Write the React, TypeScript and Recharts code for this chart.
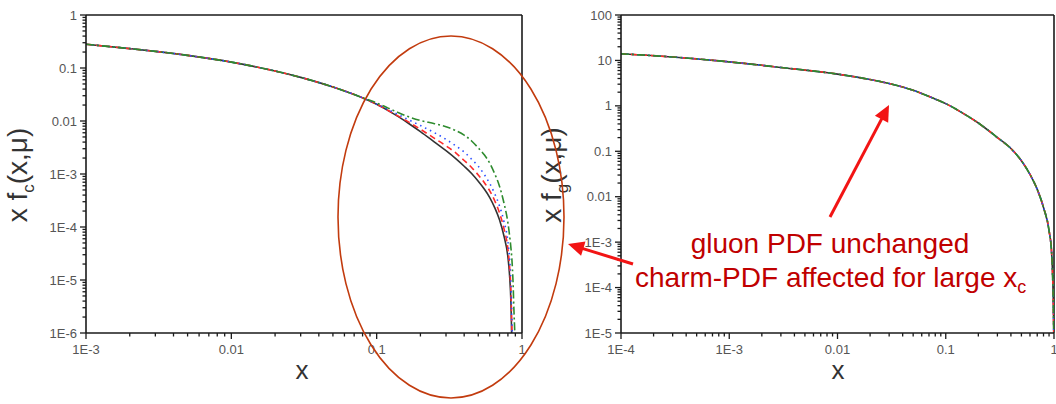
import React from "react";
import { LineChart, Line, XAxis, YAxis, ReferenceLine } from "recharts";

// charm PDF, left panel (x from 1E-3 to 1)
const charmX = [0.001, 0.002, 0.003, 0.005, 0.01, 0.02, 0.03, 0.05, 0.08, 0.1, 0.12, 0.14, 0.17, 0.2, 0.25, 0.3, 0.35, 0.4, 0.45, 0.5, 0.55, 0.6, 0.65, 0.7, 0.75, 0.8, 0.82, 0.84, 0.85, 0.86, 0.87, 0.88, 0.89, 0.9];
const charmRef = [0.28, 0.232, 0.206, 0.173, 0.129, 0.0877, 0.0665, 0.0438, 0.0273, 0.0207, 0.0157, 0.0122, 0.0086, 0.0063, 0.004, 0.00275, 0.00195, 0.0014, 0.00102, 0.00073, 0.00052, 0.00036, 0.00023, 0.000137, 0.000069, 0.000027, 0.000013, 0.0000034, 0.0000008, null, null, null, null, null];
const charmRed = [0.28, 0.232, 0.206, 0.173, 0.129, 0.0877, 0.0665, 0.0438, 0.0273, 0.0207, 0.0158, 0.0125, 0.0092, 0.007, 0.0047, 0.0034, 0.0025, 0.0018, 0.00133, 0.00096, 0.00069, 0.00048, 0.00031, 0.000185, 0.000095, 0.000038, 0.000019, 0.0000055, 0.0000015, 0.0000003, null, null, null, null];
const charmBlue = [0.28, 0.232, 0.206, 0.173, 0.129, 0.0877, 0.0665, 0.0438, 0.0273, 0.0208, 0.0164, 0.0133, 0.0102, 0.0082, 0.006, 0.0045, 0.0034, 0.0026, 0.0019, 0.0014, 0.00098, 0.00066, 0.00042, 0.00025, 0.00013, 0.000053, 0.000027, 0.000008, 0.0000023, 0.0000005, null, null, null, null];
const charmGreen = [0.28, 0.232, 0.206, 0.173, 0.129, 0.0877, 0.0665, 0.0438, 0.0275, 0.022, 0.0175, 0.0145, 0.0117, 0.0102, 0.0089, 0.0078, 0.0066, 0.0054, 0.0042, 0.0031, 0.0023, 0.0016, 0.001, 0.00059, 0.00029, 0.00012, 0.000072, 0.000039, 0.000027, 0.000016, 0.0000075, 0.0000027, 0.0000012, 0.0000005];

// gluon PDF, right panel (all variants coincide)
const gluonX = [0.0001, 0.0003, 0.001, 0.003, 0.01, 0.02, 0.03, 0.05, 0.075, 0.1, 0.15, 0.2, 0.3, 0.4, 0.5, 0.6, 0.7, 0.8, 0.9, 0.95, 0.97, 0.985, 0.995];
const gluonY = [14, 11.9, 9.3, 7.0, 5.0, 3.8, 3.1, 2.2, 1.5, 1.12, 0.65, 0.42, 0.2, 0.115, 0.062, 0.031, 0.0145, 0.0058, 0.0018, 0.0006, 0.0002, 0.00005, 0.00001];

const charmXTicks = [0.001, 0.01, 0.1, 1];
const charmXLabels = ["1E-3", "0.01", "0.1", "1"];
const charmYTicks = [1e-6, 1e-5, 1e-4, 1e-3, 0.01, 0.1, 1];
const charmYLabels = ["1E-6", "1E-5", "1E-4", "1E-3", "0.01", "0.1", "1"];
const gluonXTicks = [1e-4, 1e-3, 0.01, 0.1, 1];
const gluonXLabels = ["1E-4", "1E-3", "0.01", "0.1", "1"];
const gluonYTicks = [1e-5, 1e-4, 1e-3, 0.01, 0.1, 1, 10, 100];
const gluonYLabels = ["1E-5", "1E-4", "1E-3", "0.01", "0.1", "1", "10", "100"];

const FONT = "'Liberation Sans', Arial, sans-serif";
const AXIS = "#1a1a1a";

const charmData = charmX.map((x, i) => ({ x, ref: charmRef[i], red: charmRed[i], blue: charmBlue[i], green: charmGreen[i] }));
const gluonData = gluonX.map((x, i) => ({ x, ref: gluonY[i], red: gluonY[i], blue: gluonY[i], green: gluonY[i] }));

// majors plus 2..9 minors in each decade
const withMinor = (majors: number[]) => {
  const out: number[] = [];
  majors.forEach((m, i) => {
    out.push(m);
    if (i < majors.length - 1) for (let k = 2; k <= 9; k++) out.push(m * k);
  });
  return out;
};

const findLabel = (v: number, majors: number[], labels: string[]) => {
  const i = majors.findIndex((m) => Math.abs(Math.log10(m) - Math.log10(v)) < 1e-6);
  return i >= 0 ? labels[i] : null;
};

const XTick = (props: any) => {
  const { x, y, payload, majors, labels } = props;
  const label = findLabel(payload.value, majors, labels);
  return (
    <g>
      <line x1={x} x2={x} y1={y} y2={y + (label ? 6 : 3.5)} stroke={AXIS} strokeWidth={1.3} />
      {label && (
        <text x={x} y={y + 21} textAnchor="middle" fontSize={13} fill="#555" fontFamily={FONT}>
          {label}
        </text>
      )}
    </g>
  );
};

const YTick = (props: any) => {
  const { x, y, payload, majors, labels } = props;
  const label = findLabel(payload.value, majors, labels);
  return (
    <g>
      <line x1={x - (label ? 6 : 3.5)} x2={x} y1={y} y2={y} stroke={AXIS} strokeWidth={1.3} />
      {label && (
        <text x={x - 9} y={y + 4.5} textAnchor="end" fontSize={13} fill="#555" fontFamily={FONT}>
          {label}
        </text>
      )}
    </g>
  );
};

const YTitle = ({ bx, cy, sub }: any) => (
  <text transform={`translate(${bx},${cy}) rotate(-90)`} textAnchor="middle" fontSize={28} fill="#333" fontFamily={FONT}>
    x f<tspan fontSize={17} dy={7}>{sub}</tspan>
    <tspan dy={-7}>(x,μ)</tspan>
  </text>
);

const XTitle = ({ cx }: any) => (
  <text x={cx} y={379} textAnchor="middle" fontSize={26} fill="#333" fontFamily={FONT}>
    x
  </text>
);

const renderLines = () => [
  <Line key="ref" type="monotone" dataKey="ref" stroke="#333" strokeWidth={1.6} dot={false} isAnimationActive={false} />,
  <Line key="red" type="monotone" dataKey="red" stroke="#ff2a2a" strokeWidth={1.6} strokeDasharray="6 4" dot={false} isAnimationActive={false} />,
  <Line key="blue" type="monotone" dataKey="blue" stroke="#2a4dff" strokeWidth={1.6} strokeDasharray="1.5 4" dot={false} isAnimationActive={false} />,
  <Line key="green" type="monotone" dataKey="green" stroke="#2e8b2e" strokeWidth={1.6} strokeDasharray="8 3 2 3" dot={false} isAnimationActive={false} />,
];

const Arrow = ({ x1, y1, x2, y2 }: any) => {
  const dx = x2 - x1;
  const dy = y2 - y1;
  const len = Math.hypot(dx, dy);
  const ux = dx / len;
  const uy = dy / len;
  const hl = 16;
  const hw = 7.5;
  const bx = x2 - ux * hl;
  const by = y2 - uy * hl;
  return (
    <g>
      <line x1={x1} y1={y1} x2={bx + ux * 2} y2={by + uy * 2} stroke="#f21414" strokeWidth={3} />
      <polygon points={`${x2},${y2} ${bx - uy * hw},${by + ux * hw} ${bx + uy * hw},${by - ux * hw}`} fill="#f21414" />
    </g>
  );
};

const App = () => {
  return (
    <div style={{ position: "absolute", left: 0, top: 0, width: 1056, height: 404, background: "#fff", overflow: "hidden" }}>
      <div style={{ position: "absolute", left: 0, top: 0 }}>
        <LineChart width={540} height={404} data={charmData} margin={{ top: 15, right: 18, bottom: 31, left: 26 }}>
          <XAxis
            dataKey="x"
            type="number"
            scale="log"
            domain={[0.001, 1]}
            allowDataOverflow
            ticks={withMinor(charmXTicks)}
            interval={0}
            tickSize={0}
            tickMargin={0}
            tickLine={false}
            tick={<XTick majors={charmXTicks} labels={charmXLabels} />}
            height={40}
            stroke={AXIS}
            strokeWidth={1.6}
            label={<XTitle cx={302} />}
          />
          <YAxis
            type="number"
            scale="log"
            domain={[1e-6, 1]}
            allowDataOverflow
            ticks={withMinor(charmYTicks)}
            interval={0}
            tickSize={0}
            tickMargin={0}
            tickLine={false}
            tick={<YTick majors={charmYTicks} labels={charmYLabels} />}
            width={60}
            stroke={AXIS}
            strokeWidth={1.6}
            label={<YTitle bx={27} cy={175} sub="c" />}
          />
          <ReferenceLine y={1} stroke={AXIS} strokeWidth={1.6} />
          <ReferenceLine x={1} stroke={AXIS} strokeWidth={1.6} />
          {renderLines()}
        </LineChart>
      </div>
      <div style={{ position: "absolute", left: 528, top: 0 }}>
        <LineChart width={528} height={404} data={gluonData} margin={{ top: 15, right: 2, bottom: 31, left: 33 }}>
          <XAxis
            dataKey="x"
            type="number"
            scale="log"
            domain={[0.0001, 1]}
            allowDataOverflow
            ticks={withMinor(gluonXTicks)}
            interval={0}
            tickSize={0}
            tickMargin={0}
            tickLine={false}
            tick={<XTick majors={gluonXTicks} labels={gluonXLabels} />}
            height={40}
            stroke={AXIS}
            strokeWidth={1.6}
            label={<XTitle cx={310} />}
          />
          <YAxis
            type="number"
            scale="log"
            domain={[1e-5, 100]}
            allowDataOverflow
            ticks={withMinor(gluonYTicks)}
            interval={0}
            tickSize={0}
            tickMargin={0}
            tickLine={false}
            tick={<YTick majors={gluonYTicks} labels={gluonYLabels} />}
            width={60}
            stroke={AXIS}
            strokeWidth={1.6}
            label={<YTitle bx={33} cy={175} sub="g" />}
          />
          <ReferenceLine y={100} stroke={AXIS} strokeWidth={1.6} />
          <ReferenceLine x={1} stroke={AXIS} strokeWidth={1.6} />
          {renderLines()}
        </LineChart>
      </div>
      <svg width={1056} height={404} style={{ position: "absolute", left: 0, top: 0, pointerEvents: "none" }}>
        <ellipse cx={451} cy={217} rx={113} ry={181} fill="none" stroke="#c23b0e" strokeWidth={1.6} />
        <Arrow x1={830} y1={217} x2={889} y2={105} />
        <Arrow x1={633} y1={264} x2={568} y2={244} />
        <text x={830} y={253} textAnchor="middle" fontSize={28} fill="#c00000" fontFamily={FONT}>
          gluon PDF unchanged
        </text>
        <text x={635} y={287} fontSize={28} fill="#c00000" fontFamily={FONT}>
          charm-PDF affected for large x<tspan fontSize={18} dy={6}>c</tspan>
        </text>
      </svg>
    </div>
  );
};

export default App;
